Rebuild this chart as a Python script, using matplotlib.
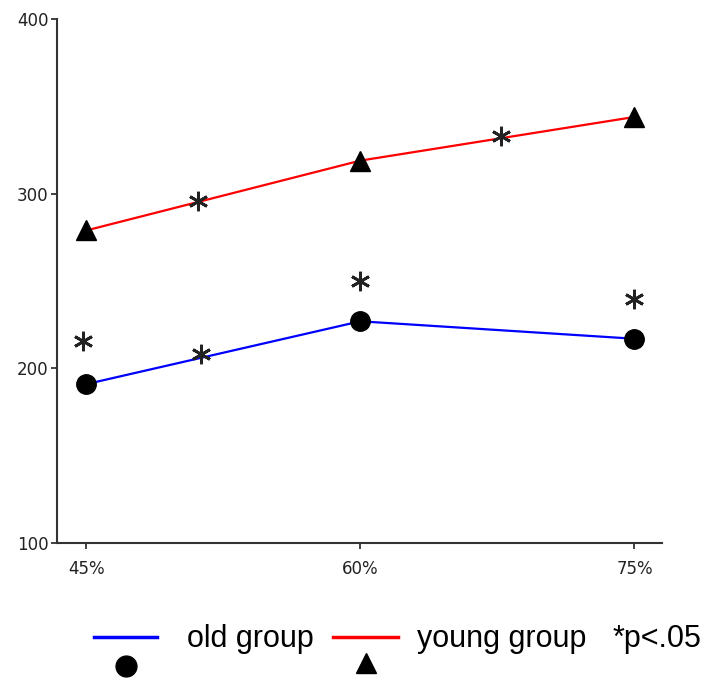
import matplotlib.pyplot as plt
from matplotlib.lines import Line2D

# Data
x_levels = [45, 60, 75]
x_labels = ['45%', '60%', '75%']
old_group = [191, 227, 217]
young_group = [279, 319, 344]

# significance stars (x, y)
star_x = [44.8, 51.3, 60, 75, 51.1, 67.7]
star_y = [216, 208, 250, 240, 296, 333]

fig = plt.figure(figsize=(7.21, 6.84), dpi=100)
ax = fig.add_axes([0.079, 0.206, 0.839, 0.766])

ax.plot(x_levels, old_group, color='blue', lw=1.6, zorder=2)
ax.plot(x_levels, old_group, 'o', color='black', ms=14, zorder=3)
ax.plot(x_levels, young_group, color='red', lw=1.6, zorder=2)
ax.plot(x_levels, young_group, '^', color='black', ms=15, zorder=3)
ax.plot(star_x, star_y, linestyle='none', marker=(6, 2, 0), ms=14,
        mew=2, color='#222222', zorder=4)

ax.set_xlim(43.4, 76.5)
ax.set_ylim(100, 400)
ax.set_xticks(x_levels)
ax.set_xticklabels(x_labels)
ax.set_yticks([100, 200, 300, 400])
ax.tick_params(labelsize=12, length=4, width=1.2, colors='#222222', pad=8)
ax.tick_params(axis='y', pad=2)
for s in ['top', 'right']:
    ax.spines[s].set_visible(False)
for s in ['left', 'bottom']:
    ax.spines[s].set_linewidth(1.5)
    ax.spines[s].set_color('#333333')

# legend below the chart
fig.add_artist(Line2D([0.131, 0.218], [0.069, 0.069], color='blue', lw=2.5))
fig.add_artist(Line2D([0.175], [0.027], marker='o', color='black', ms=15))
fig.add_artist(Line2D([0.462, 0.552], [0.069, 0.069], color='red', lw=2.5))
fig.add_artist(Line2D([0.508], [0.030], marker='^', color='black', ms=15))
fig.text(0.259, 0.066, 'old group', fontsize=22, va='center', family='Liberation Sans')
fig.text(0.578, 0.066, 'young group', fontsize=22, va='center', family='Liberation Sans')
fig.text(0.850, 0.066, '*p<.05', fontsize=22, va='center', family='Liberation Sans')

plt.savefig('out.png', dpi=100)
